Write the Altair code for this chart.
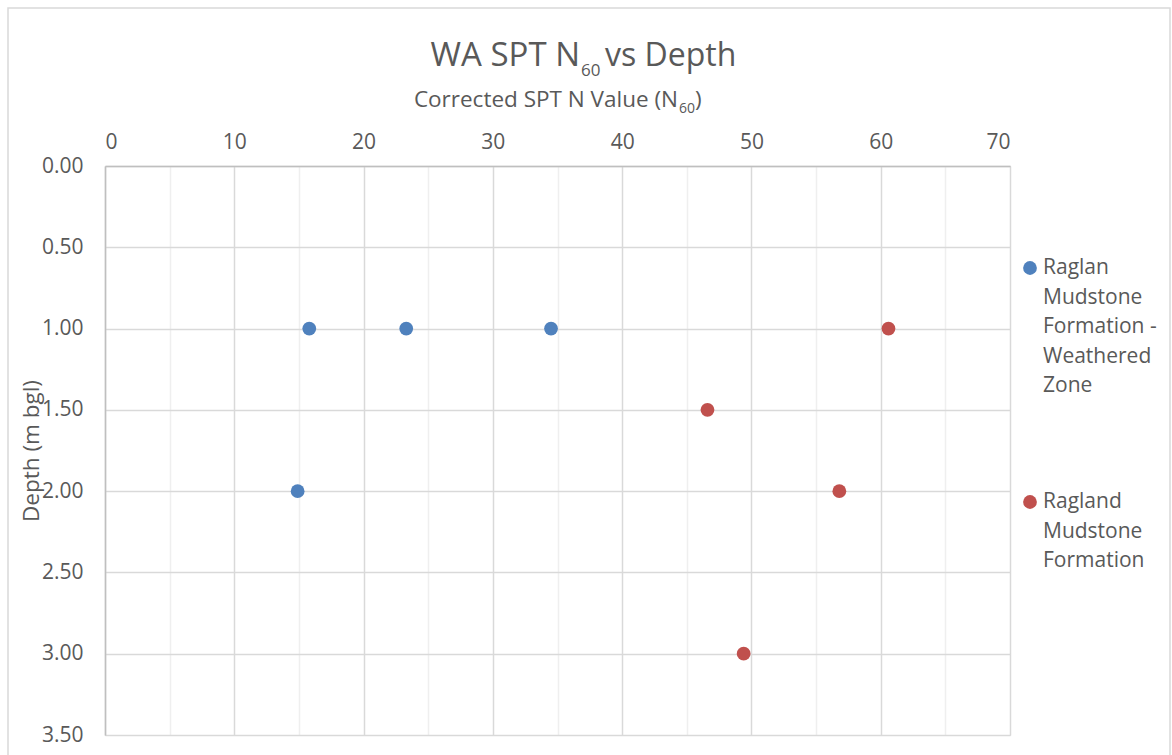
import altair as alt
import pandas as pd

# Corrected SPT N60 values against depth, by formation
weathered_n60 = [15.8, 23.3, 34.5, 14.9]
weathered_depth = [1.0, 1.0, 1.0, 2.0]
fresh_n60 = [60.6, 46.6, 56.8, 49.4]
fresh_depth = [1.0, 1.5, 2.0, 3.0]

series_names = [
    "Raglan Mudstone Formation - Weathered Zone",
    "Ragland Mudstone Formation",
]
series_colors = ["#4f81bd", "#c0504d"]
legend_lines = [
    ["Raglan", "Mudstone", "Formation -", "Weathered", "Zone"],
    ["Ragland", "Mudstone", "Formation"],
]

x_ticks = [0, 5, 10, 15, 20, 25, 30, 35, 40, 45, 50, 55, 60, 65, 70]
y_ticks = [0.0, 0.5, 1.0, 1.5, 2.0, 2.5, 3.0, 3.5]

df = pd.DataFrame(
    {
        "n60": weathered_n60 + fresh_n60,
        "depth": weathered_depth + fresh_depth,
        "series": [series_names[0]] * len(weathered_n60)
        + [series_names[1]] * len(fresh_n60),
    }
)

W, H = 905, 569
FONT = "Open Sans"
GREY = "#595959"

points = (
    alt.Chart(df)
    .mark_circle(size=190, opacity=1)
    .encode(
        x=alt.X(
            "n60:Q",
            scale=alt.Scale(domain=[0, 70], nice=False),
            axis=alt.Axis(
                orient="top",
                values=x_ticks,
                labelExpr="datum.value % 10 === 0 ? datum.label : ''",
                title=None,
                ticks=False,
                labelPadding=14,
                labelFontSize=21,
                labelColor=GREY,
                labelFont=FONT,
                domainColor="#bfbfbf",
                domainWidth=1.5,
                gridColor={
                    "condition": {"test": "datum.value % 10 === 0", "value": "#d9d9d9"},
                    "value": "#efefef",
                },
                gridWidth=1.5,
            ),
        ),
        y=alt.Y(
            "depth:Q",
            scale=alt.Scale(domain=[0, 3.5], reverse=True, nice=False),
            axis=alt.Axis(
                orient="left",
                values=y_ticks,
                format=".2f",
                title="Depth (m bgl)",
                titleFont=FONT,
                titleFontSize=22.5,
                titleFontWeight="normal",
                titleColor=GREY,
                titleX=-74,
                titleY=H / 2,
                titleAngle=-90,
                titleAlign="center",
                titleBaseline="middle",
                ticks=False,
                labelPadding=22,
                labelFontSize=21,
                labelColor=GREY,
                labelFont=FONT,
                domainColor="#bfbfbf",
                domainWidth=1.5,
                gridColor="#d9d9d9",
                gridWidth=1.5,
            ),
        ),
        color=alt.Color(
            "series:N",
            scale=alt.Scale(domain=series_names, range=series_colors),
            legend=None,
        ),
    )
)

# Outer chart frame
frame = alt.Chart().mark_rect(fill=None, stroke="#d9d9d9", strokeWidth=1.5).encode(
    x=alt.value(-97), x2=alt.value(1065), y=alt.value(-158), y2=alt.value(620)
)


def label(text, x, y, size, align="left", baseline="alphabetic"):
    return alt.Chart().mark_text(
        text=text, font=FONT, fontSize=size, color=GREY, align=align,
        baseline=baseline, lineHeight=29.5,
    ).encode(x=alt.value(x), y=alt.value(y))


# Chart title with subscript
title_parts = [
    label("WA SPT N", 475, -100, 33, "right"),
    label("60", 476, -90, 17),
    label("vs Depth", 500, -100, 32),
]
# Axis title with subscript
axis_title_parts = [
    label("Corrected SPT N Value (N", 573, -59, 22.5, "right"),
    label("60", 574, -53, 14),
    label(")", 590, -59, 22.5),
]

# Legend: swatch plus wrapped label for each series
legend_parts = []
for i, (color, lines) in enumerate(zip(series_colors, legend_lines)):
    cy = 102 + i * 234
    legend_parts.append(
        alt.Chart().mark_circle(size=190, opacity=1, color=color).encode(
            x=alt.value(925), y=alt.value(cy)
        )
    )
    legend_parts.append(label(lines, 938, cy, 21, "left", "middle"))

chart = (
    alt.layer(frame, points, *title_parts, *axis_title_parts, *legend_parts)
    .properties(
        width=W,
        height=H,
        autosize=alt.AutoSizeParams(type="none"),
        padding={"left": 105, "top": 166, "right": 162, "bottom": 20},
    )
    .configure_view(stroke=None)
    .configure(background="white")
)

chart.save("out.html", embed_options={"renderer": "svg", "actions": False})
